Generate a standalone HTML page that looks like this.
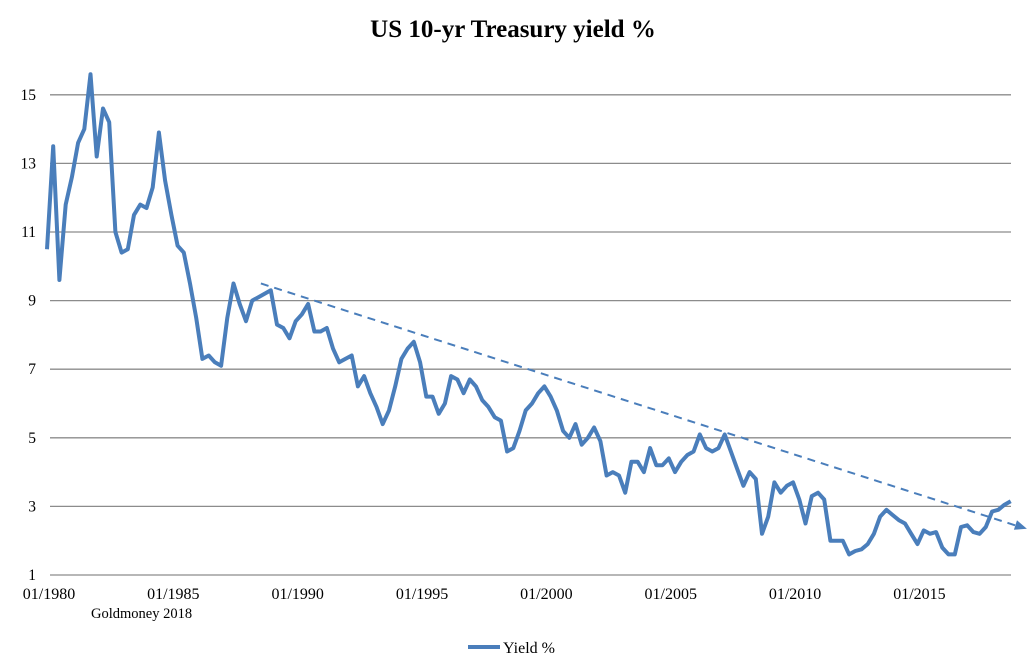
<!DOCTYPE html>
<html><head><meta charset="utf-8"><style>
body{margin:0;background:#fff;}
svg{display:block;font-family:"Liberation Serif",serif;}
</style></head><body>
<svg id="c" width="1027" height="671">
<text x="513" y="37" text-anchor="middle" font-size="25" font-weight="bold">US 10-yr Treasury yield %</text>
<g id="grid"></g><g id="yt"></g><g id="xt"></g><g id="ser"></g>
<text x="91" y="618" font-size="14.5">Goldmoney 2018</text>
<g>
<line x1="468" y1="647" x2="500" y2="647" stroke="#4a7ebb" stroke-width="4"/>
<text x="503" y="653" font-size="16">Yield %</text>
</g>
</svg>
<script>
const yTicks=[1,3,5,7,9,11,13,15];
const xTickYears=[1980,1985,1990,1995,2000,2005,2010,2015];
const xTickLabels=["01/1980","01/1985","01/1990","01/1995","01/2000","01/2005","01/2010","01/2015"];
const startYear=1980;
const yields=[10.5,13.5,9.6,11.8, 12.6,13.6,14.0,15.6, 13.2,14.6,14.2,11.0, 10.4,10.5,11.5,11.8,
11.7,12.3,13.9,12.5, 11.5,10.6,10.4,9.5, 8.5,7.3,7.4,7.2, 7.1,8.5,9.5,8.9,
8.4,9.0,9.1,9.2, 9.3,8.3,8.2,7.9, 8.4,8.6,8.9,8.1, 8.1,8.2,7.6,7.2,
7.3,7.4,6.5,6.8, 6.3,5.9,5.4,5.8, 6.5,7.3,7.6,7.8, 7.2,6.2,6.2,5.7,
6.0,6.8,6.7,6.3, 6.7,6.5,6.1,5.9, 5.6,5.5,4.6,4.7, 5.2,5.8,6.0,6.3,
6.5,6.2,5.8,5.2, 5.0,5.4,4.8,5.0, 5.3,4.9,3.9,4.0, 3.9,3.4,4.3,4.3,
4.0,4.7,4.2,4.2, 4.4,4.0,4.3,4.5, 4.6,5.1,4.7,4.6, 4.7,5.1,4.6,4.1,
3.6,4.0,3.8,2.2, 2.7,3.7,3.4,3.6, 3.7,3.2,2.5,3.3, 3.4,3.2,2.0,2.0,
2.0,1.6,1.7,1.75, 1.9,2.2,2.7,2.9, 2.75,2.6,2.5,2.2, 1.9,2.3,2.2,2.25,
1.8,1.6,1.6,2.4, 2.45,2.25,2.2,2.4, 2.85,2.9,3.05,3.15];
const trendYears=[1988.6,2019.4];
const trendValues=[9.5,2.35];
const NS="http://www.w3.org/2000/svg";
const X=t=>47+(t-1980)*24.87;
const Y=v=>575-(v-1)*34.3;
function mk(tag,attrs,parent){const e=document.createElementNS(NS,tag);for(const k in attrs)e.setAttribute(k,attrs[k]);parent.appendChild(e);return e;}
const grid=document.getElementById('grid'),yt=document.getElementById('yt'),xt=document.getElementById('xt'),ser=document.getElementById('ser');
yTicks.forEach(v=>{
 const l=mk('line',{x1:50,x2:1011,y1:Y(v),y2:Y(v),stroke:'#8c8c8c','stroke-width':1.3},grid);
 
 
 const t=mk('text',{x:36,y:Y(v)+5,'text-anchor':'end','font-size':15.5},yt);
 t.textContent=v;
 
 
});
xTickYears.forEach((yr,i)=>{
 const t=mk('text',{x:X(yr)+2,y:599,'text-anchor':'middle','font-size':16},xt);
 t.textContent=xTickLabels[i];
 
 
});
const pts=yields.map((v,i)=>X(startYear+i*0.25).toFixed(1)+','+Y(v).toFixed(1)).join(' ');
const pl=mk('polyline',{points:pts,fill:'none',stroke:'#4a7ebb','stroke-width':4,'stroke-linejoin':'round'},ser);


const x1=X(trendYears[0]),y1=Y(trendValues[0]),x2=X(trendYears[1]),y2=Y(trendValues[1]);
const tl=mk('line',{x1:x1,y1:y1,x2:x2-8,y2:y2-2.2,stroke:'#4a7ebb','stroke-width':2,'stroke-dasharray':'8,6'},ser);


const ang=Math.atan2(y2-y1,x2-x1);
const ax=[x2,x2-12*Math.cos(ang)+5*Math.sin(ang),x2-12*Math.cos(ang)-5*Math.sin(ang)];
const ay=[y2,y2-12*Math.sin(ang)-5*Math.cos(ang),y2-12*Math.sin(ang)+5*Math.cos(ang)];
const ar=mk('polygon',{points:ax.map((a,i)=>a+','+ay[i]).join(' '),fill:'#4a7ebb'},ser);


</script>
</body></html>
